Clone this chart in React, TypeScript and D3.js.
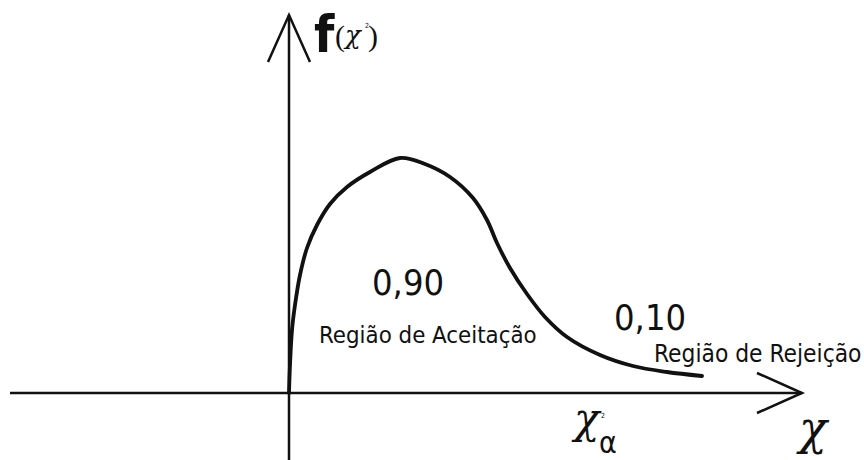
import React from "react";
import * as d3 from "d3";

// Density curve of the chi-square statistic (x in χ² units, y in density units)
const curveX = [0, 0.025, 0.075, 0.15, 0.275, 0.45, 0.7, 1.025, 1.45, 2.025, 2.775, 3.4, 4.025, 4.6, 4.95, 5.2, 5.525, 5.95, 6.4, 6.95, 7.775, 8.6, 9.45, 10.325];
const curveY = [0, 0.028, 0.063, 0.088, 0.118, 0.145, 0.168, 0.189, 0.206, 0.221, 0.235, 0.229, 0.216, 0.195, 0.173, 0.15, 0.125, 0.099, 0.076, 0.056, 0.038, 0.027, 0.021, 0.017];

// Region probabilities and their captions
const regionProbs = ["0,90", "0,10"];
const regionNames = ["Região de Aceitação", "Região de Rejeição"];

const W = 864;
const H = 460;
const SANS = "'DejaVu Sans Condensed', 'DejaVu Sans', sans-serif";
const SERIF = "'DejaVu Serif', 'Liberation Serif', serif";

export default function App() {
  const x = d3.scaleLinear().domain([0, 13]).range([289, 809]);
  const y = d3.scaleLinear().domain([0, 0.25]).range([393, 143]);

  const pts: [number, number][] = curveX.map((v, i) => [v, curveY[i]]);
  const line = d3
    .line<[number, number]>()
    .x((d) => x(d[0]))
    .y((d) => y(d[1]))
    .curve(d3.curveCatmullRom.alpha(0.5));

  const x0 = x(0);
  const y0 = y(0);
  const xEnd = 802;
  const yTop = 15;
  const ink = "#111";

  return (
    <svg
      width={W}
      height={H}
      viewBox={`0 0 ${W} ${H}`}
      style={{ position: "absolute", left: 0, top: 0, background: "#fff" }}
    >
      <rect width={W} height={H} fill="#fff" />
      {/* horizontal axis with open arrowhead */}
      <line x1={10} y1={y0} x2={xEnd} y2={y0} stroke={ink} strokeWidth={2.5} />
      <polyline
        points={`${xEnd - 45},${y0 - 20} ${xEnd},${y0} ${xEnd - 45},${y0 + 20}`}
        fill="none"
        stroke={ink}
        strokeWidth={2.5}
      />
      {/* vertical axis with open arrowhead */}
      <line x1={x0} y1={yTop} x2={x0} y2={H} stroke={ink} strokeWidth={2.5} />
      <polyline
        points={`${x0 - 21},${yTop + 47} ${x0},${yTop} ${x0 + 21},${yTop + 47}`}
        fill="none"
        stroke={ink}
        strokeWidth={2.5}
      />
      {/* density curve */}
      <path d={line(pts) ?? ""} fill="none" stroke={ink} strokeWidth={3.8} strokeLinecap="round" />

      {/* axis title f(χ²) */}
      <text x={314} y={52} fontFamily={SANS} fontWeight="bold" fontSize={52} fill={ink}>
        f
      </text>
      <text x={335} y={46} fontFamily="'Liberation Serif', serif" fontSize={30} fill={ink}>
        (
      </text>
      <text x={345} y={44} fontFamily={SERIF} fontStyle="italic" fontSize={26} fill={ink}>
        χ
      </text>
      <text x={365} y={28} fontFamily={SANS} fontSize={7} fill={ink}>
        2
      </text>
      <text x={368} y={46} fontFamily="'Liberation Serif', serif" fontSize={30} fill={ink}>
        )
      </text>

      {/* critical value χ²α */}
      <text x={574} y={433} fontFamily={SERIF} fontStyle="italic" fontSize={42} fill={ink}>
        χ
      </text>
      <text x={601} y={418} fontFamily={SANS} fontSize={7} fill={ink}>
        2
      </text>
      <text x={599} y={453} fontFamily={SANS} fontSize={30} fill={ink}>
        α
      </text>

      {/* horizontal axis title */}
      <text x={799} y={444} fontFamily={SERIF} fontStyle="italic" fontSize={46} fill={ink}>
        χ
      </text>

      {/* region probabilities and captions */}
      <text x={372} y={295} fontFamily={SANS} fontSize={36} fill={ink}>
        {regionProbs[0]}
      </text>
      <text x={319} y={343} fontFamily={SANS} fontSize={23.8} fill={ink}>
        {regionNames[0]}
      </text>
      <text x={614} y={330} fontFamily={SANS} fontSize={36} fill={ink}>
        {regionProbs[1]}
      </text>
      <text x={654} y={362} fontFamily={SANS} fontSize={24.3} fill={ink}>
        {regionNames[1]}
      </text>
    </svg>
  );
}
